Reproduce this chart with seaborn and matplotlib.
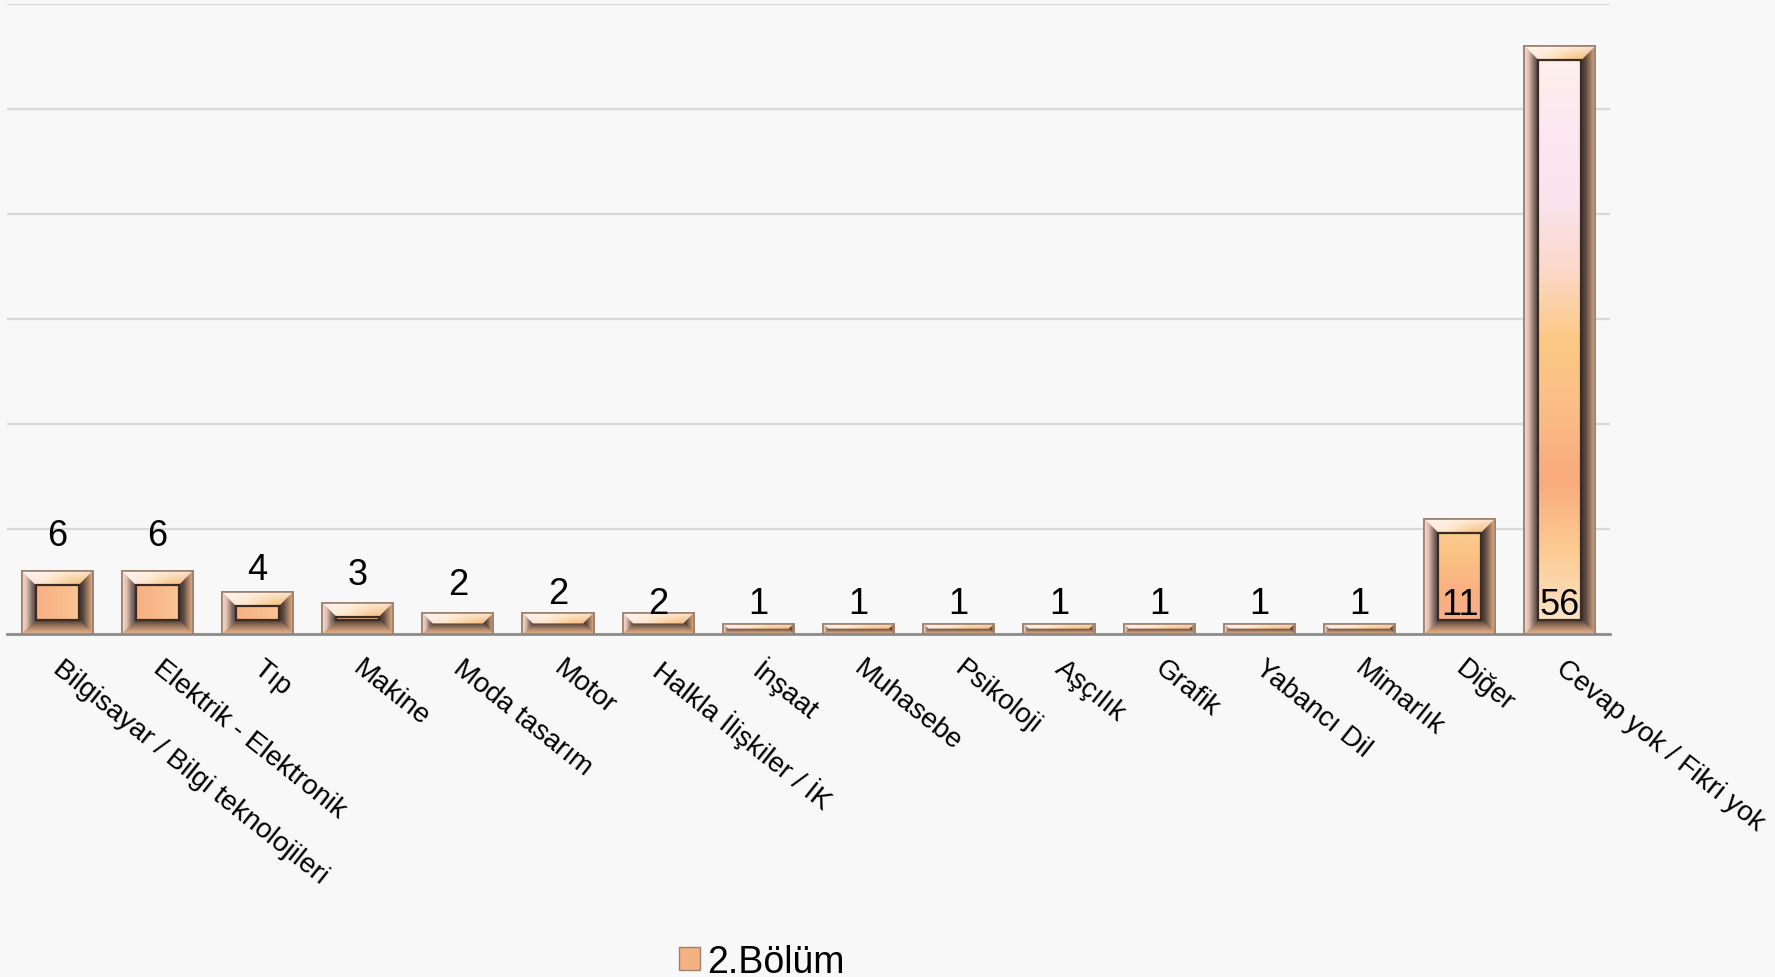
import numpy as np
import pandas as pd
import matplotlib
matplotlib.use('Agg')
import matplotlib.pyplot as plt
import seaborn as sns
from matplotlib.patches import Polygon, Patch
from matplotlib.colors import to_rgb
from matplotlib.transforms import ScaledTranslation

# ---------------- data ----------------
categories = ["Bilgisayar / Bilgi teknolojileri", "Elektrik - Elektronik", "Tıp", "Makine",
              "Moda tasarım", "Motor", "Halkla İlişkiler / İK", "İnşaat", "Muhasebe",
              "Psikoloji", "Aşçılık", "Grafik", "Yabancı Dil", "Mimarlık", "Diğer",
              "Cevap yok / Fikri yok"]
values = [6, 6, 4, 3, 2, 2, 2, 1, 1, 1, 1, 1, 1, 1, 11, 56]
series_name = "2.Bölüm"
y_ticks = [0, 10, 20, 30, 40, 50, 60]

# label baseline heights (styling, as placed in the original)
label_base = [8.5, 8.5, 5.2, 4.8, 3.8, 3.0, 2.0, 2.0, 2.0, 2.0, 2.0, 2.0, 2.0, 2.0, 1.9, 1.9]

W, H = 1775, 978
sns.set_theme(style='white')
plt.rcParams['font.family'] = ['Liberation Sans', 'DejaVu Sans']
plt.rcParams['text.color'] = 'black'

BG = '#f8f8f8'
fig = plt.figure(figsize=(W / 100, H / 100), dpi=100)
fig.patch.set_facecolor(BG)
ax_l, ax_r, ax_t, ax_b = 7, 1610, 5, 635
ax = fig.add_axes([ax_l / W, 1 - ax_b / H, (ax_r - ax_l) / W, (ax_b - ax_t) / H])
ax.set_facecolor(BG)

df = pd.DataFrame({'cat': categories, 'val': values})
sns.barplot(data=df, x='cat', y='val', ax=ax, color='#f7b887', width=0.71,
            edgecolor='#9c7f70', linewidth=1.2, saturation=1, zorder=2)

ax.set_xlim(-0.5, len(categories) - 0.5)
ax.set_ylim(0, 60)
ax.set_yticks(y_ticks)
ax.yaxis.grid(True, color='#d9d9d9', lw=1.6)
ax.set_axisbelow(True)
ax.tick_params(axis='y', left=False, labelleft=False)
for s in ['left', 'right', 'top']:
    ax.spines[s].set_visible(False)
ax.spines['bottom'].set_color('#8c8c8c')
ax.spines['bottom'].set_linewidth(2)
ax.set_xlabel('')
ax.set_ylabel('')

# ---------------- bevel effect ----------------
px_x = (ax_r - ax_l) / len(categories)
px_y = (ax_b - ax_t) / 60.0
BEV = 14.0
N = 128


def ramp(colors, n=N):
    stops = np.array([to_rgb(c) for c in colors])
    pos = np.linspace(0, 1, len(colors))
    t = np.linspace(0, 1, n)
    return np.stack([np.interp(t, pos, stops[:, k]) for k in range(3)], axis=-1)


def fill_img(verts, img, zorder):
    poly = Polygon(verts, closed=True, transform=ax.transData,
                   facecolor='none', edgecolor='none')
    xs, ys = zip(*verts)
    extent = (min(xs), max(xs), min(ys), max(ys))
    im = ax.imshow(img, extent=extent, origin='lower', aspect='auto',
                   interpolation='bilinear', zorder=zorder)
    im.set_clip_path(poly)


def hgrad(colors):
    return ramp(colors)[None, :, :].repeat(2, axis=0)


def vgrad(colors):
    return ramp(colors)[:, None, :].repeat(2, axis=1)


# top bevel: horizontal tint (pinkish white left -> golden right), whitening toward outer edge
top_h = ramp(['#fbe9ec', '#fde3c6', '#f7c587', '#f2b070'])
t_v = np.linspace(0, 1, N)[:, None, None]  # 0 inner (bottom), 1 outer (top)
white = np.array(to_rgb('#fff8f2'))[None, None, :]
top_img = top_h[None, :, :] * (1 - 0.75 * t_v) + white * 0.75 * t_v

bars = list(ax.patches)
for p, v in zip(bars, values):
    x0 = p.get_x()
    w = p.get_width()
    h = p.get_height()
    x1, y0, y1 = x0 + w, 0.0, h
    hpx = h * px_y
    wpx = w * px_x
    b = min(BEV, hpx / 2.0, wpx / 2.0)
    dx, dy = b / px_x, b / px_y
    z = 3
    # top
    fill_img([(x0, y1), (x1, y1), (x1 - dx, y1 - dy), (x0 + dx, y1 - dy)], top_img, z)
    # bottom (outer at bottom -> inner at top)
    fill_img([(x0, y0), (x1, y0), (x1 - dx, y0 + dy), (x0 + dx, y0 + dy)],
             vgrad(['#e9b88e', '#a98066', '#4a3c35']), z)
    # left (outer -> inner)
    fill_img([(x0, y0), (x0 + dx, y0 + dy), (x0 + dx, y1 - dy), (x0, y1)],
             hgrad(['#f9dcd4', '#e2bfae', '#8c7670', '#4e403c']), z + 0.1)
    # right (inner -> outer)
    fill_img([(x1, y0), (x1 - dx, y0 + dy), (x1 - dx, y1 - dy), (x1, y1)],
             hgrad(['#3a302c', '#5e4c42', '#a88064', '#e6b07c']), z + 0.1)
    # inner face
    fy0, fy1 = y0 + dy, y1 - dy
    if fy1 - fy0 > 1e-6:
        fverts = [(x0 + dx, fy0), (x1 - dx, fy0), (x1 - dx, fy1), (x0 + dx, fy1)]
        if v >= 30:
            img = vgrad(['#fde2c4', '#fcca92', '#f9aa7e', '#fbbd86', '#fcc984',
                         '#fbd8c8', '#fbe4ee', '#fbe7f2', '#fdf0ec'])
        elif v >= 10:
            img = vgrad(['#f8ad8a', '#f9b182', '#fbbf82', '#fccb8e'])
        else:
            img = hgrad(['#f6b083', '#f9b98a', '#fbc595'])
        fill_img(fverts, img, z + 0.2)
        ax.add_patch(Polygon(fverts, closed=True, facecolor='none', edgecolor='#3a2c24',
                             lw=1.6, zorder=z + 0.3))
    # outer edge
    ax.add_patch(Polygon([(x0, y0), (x1, y0), (x1, y1), (x0, y1)], closed=True,
                         facecolor='none', edgecolor='#9c7f70', lw=1.2, zorder=z + 0.4))

ax.set_xlim(-0.5, len(categories) - 0.5)
ax.set_ylim(0, 60)

# value labels
for i, (v, yb) in enumerate(zip(values, label_base)):
    ax.text(i, yb, str(v), ha='center', va='baseline', fontsize=26, color='black', zorder=10)

# x tick labels
ax.set_xticks(range(len(categories)))
ax.set_xticklabels(categories, rotation=-38.5, ha='left', rotation_mode='anchor', fontsize=20)
ax.tick_params(axis='x', length=0, pad=15, colors='black')
shift = ScaledTranslation(7 / 100, 0, fig.dpi_scale_trans)
for lab in ax.get_xticklabels():
    lab.set_transform(lab.get_transform() + shift)

# legend
handle = Patch(facecolor='#f4b283', edgecolor='#a08070')
leg = fig.legend([handle], [series_name], loc='center', bbox_to_anchor=(762 / W, 1 - 963 / H),
                 frameon=False, fontsize=27, handlelength=0.55, handleheight=0.55,
                 handletextpad=0.2, borderpad=0, labelcolor='black')

fig.savefig('out.png', dpi=100, facecolor=fig.get_facecolor())
